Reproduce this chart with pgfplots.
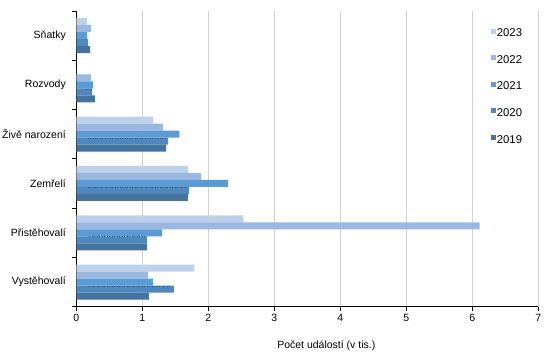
\documentclass[border=0pt]{standalone}
\usepackage{pgfplots}
\pgfplotsset{compat=1.18}
\usepackage{fontspec}
\setmainfont{Liberation Sans}
\definecolor{c23}{HTML}{BDD1EA}
\definecolor{c22}{HTML}{9AB8E0}
\definecolor{c21}{HTML}{5B9BD5}
\definecolor{c20}{HTML}{4F88BD}
\definecolor{c19}{HTML}{44739E}
\newcommand{\fs}{\fontsize{10.5bp}{12.5bp}\selectfont}
\newcommand{\fl}{\fontsize{11.3bp}{13bp}\selectfont}
\begin{document}
\begin{tikzpicture}
\useasboundingbox (0,0) rectangle (560bp,360bp);
\begin{axis}[
  at={(76.3bp,53.3bp)}, anchor=south west,
  scale only axis, width=462bp, height=295.7bp,
  xbar, bar shift=0pt, bar width=0.142,
  xmin=0, xmax=7, ymin=0, ymax=6, y dir=reverse,
  xtick={0,...,7},
  ytick={0.5,1.5,2.5,3.5,4.5,5.5},
  yticklabels={Sňatky,Rozvody,Živě narození,Zemřelí,Přistěhovalí,Vystěhovalí},
  minor ytick={0,...,6},
  axis x line*=bottom, axis y line*=left,
  axis line style={black, line width=0.8pt, -},
  tick align=outside,
  major tick length=4bp, minor tick length=4bp,
  major y tick style={draw=none},
  minor y tick style={black, line width=0.8pt},
  major x tick style={black, line width=0.8pt},
  xmajorgrids, grid style={gray!35, line width=0.8pt},
  /pgf/number format/assume math mode=true,
  ticklabel style={font=\fs},
  yticklabel style={xshift=-3bp},
  xlabel={Počet událostí (v tis.)},
  xlabel style={font=\fs, xshift=19bp, yshift=-12bp},
  legend style={at={(0.897,0.9415)}, anchor=north west, draw=none, fill=none,
    font=\fl, row sep=16.9bp, inner sep=0pt, nodes={inner xsep=1bp, inner ysep=0bp}},
  legend cell align=left,
  legend image code/.code={\fill[#1] (0bp,0bp) rectangle (5bp,5bp);},
]
\addplot[fill=c23, draw=none, y filter/.expression={y-0.284}] coordinates {(0.16,0.5) (0,1.5) (1.16,2.5) (1.69,3.5) (2.53,4.5) (1.79,5.5)};
\addplot[fill=c22, draw=none, y filter/.expression={y-0.142}] coordinates {(0.22,0.5) (0.22,1.5) (1.31,2.5) (1.89,3.5) (6.11,4.5) (1.09,5.5)};
\addplot[fill=c21, draw=none] coordinates {(0.16,0.5) (0.25,1.5) (1.56,2.5) (2.30,3.5) (1.30,4.5) (1.16,5.5)};
\addplot[fill=c20, draw=none, y filter/.expression={y+0.142}] coordinates {(0.18,0.5) (0.24,1.5) (1.39,2.5) (1.71,3.5) (1.07,4.5) (1.48,5.5)};
\addplot[fill=c19, draw=none, y filter/.expression={y+0.284}] coordinates {(0.21,0.5) (0.28,1.5) (1.36,2.5) (1.69,3.5) (1.07,4.5) (1.10,5.5)};
\legend{2023,2022,2021,2020,2019}
\addplot[sharp plot, no marks, draw=c19!70!black, line width=0.5pt, dotted, unbounded coords=jump]
  coordinates {(0.15,1.58) (0.23,1.58) (nan,nan) (0.17,2.58) (1.37,2.58) (nan,nan) (0.17,3.58) (1.66,3.58) (nan,nan) (0.2,4.58) (1.04,4.58) (nan,nan) (0.2,5.58) (1.44,5.58)};
\end{axis}
\end{tikzpicture}
\end{document}
